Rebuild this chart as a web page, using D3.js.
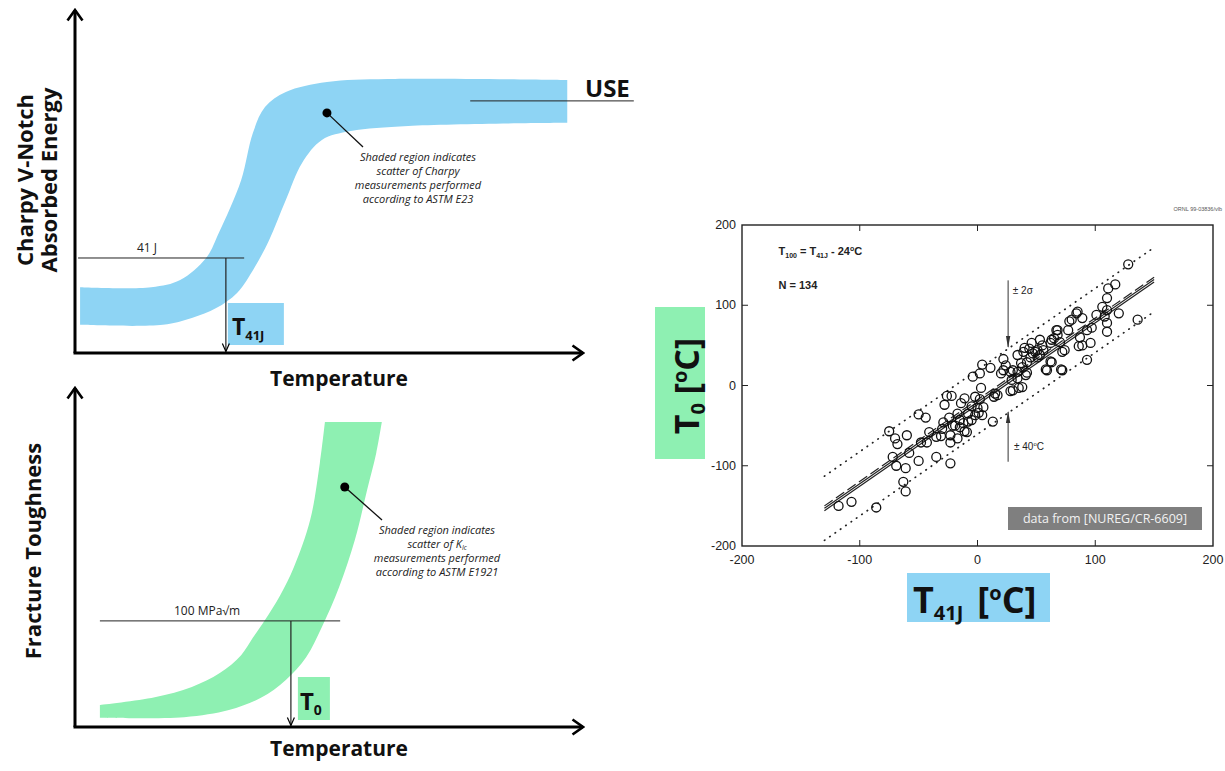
<!DOCTYPE html>
<html>
<head>
<meta charset="utf-8">
<script src="https://cdn.jsdelivr.net/npm/d3@7"></script>
<style>
  body { margin: 0; background: #fff; }
  svg { display: block; }
</style>
</head>
<body>
<script>
// ---------- data ----------
// Charpy schematic: edges of the scatter band [temperature, energy] (arbitrary units 0-100)
const charpyUpper = [[1.0,19.2],[15.0,19.2],[20.7,21.3],[25.8,27.7],[28.3,35.0],[32.7,50.4],[35.0,64.1],[37.4,71.7],[41.5,76.1],[49.6,79.0],[61.6,79.9],[96.9,79.6]];
const charpyLower = [[1.0,8.2],[17.3,8.2],[23.0,10.2],[27.8,13.1],[31.9,17.5],[35.4,25.1],[38.2,32.9],[41.5,44.6],[44.7,55.4],[48.6,62.1],[54.3,64.7],[65.6,66.2],[96.9,67.1]];
// Kic schematic: edges of the scatter band [temperature, toughness]
const kicUpper = [[4.9,6.5],[15.7,8.8],[23.0,11.8],[28.5,15.9],[32.7,21.2],[35.0,26.3],[37.4,31.6],[40.4,38.9],[43.1,47.2],[46.3,61.1],[48.2,77.9],[49.2,90.0]];
const kicLower = [[4.9,2.7],[21.5,2.9],[30.3,5.0],[36.6,8.6],[41.5,13.9],[45.5,20.6],[48.6,29.5],[52.0,41.3],[55.1,55.2],[57.5,69.9],[59.3,80.8],[60.4,90.0]];
// reference levels: [level, temperature, line start, line end]
const charpyRef = [27.7, 29.7, 0.6, 33.3];
const kicRef = [31.3, 42.5, 4.9, 52.2];
const useRef = [73.5, 77.8, 110];
const charpyDot = [49.6, 70.0];
const kicDot = [53.1, 70.8];

// T0 vs T41J scatter [T41J, T0] in degC
const scatterPoints = [
  [-118,-150],[-107,-145],[-86,-152],
  [-75,-57],[-70,-66],[-68,-73],[-72,-89],[-69,-100],[-60,-62],[-58,-84],[-61,-103],[-63,-120],[-61,-132],
  [-50,-36],[-44,-40],[-50,-94],[-48,-71],[-43,-71],[-41,-58],[-35,-89],[-35,-64],[-31,-63],
  [-30,-54],[-29,-46],[-28,-24],[-26,-13],[-22,-13],[-24,-40],[-23,-71],[-23,-97],[-23,-62],[-21,-50],
  [-17,-66],[-19,-50],[-17,-35],[-15,-43],[-14,-22],[-11,-16],[-15,-52],[-12,-47],[-11,-57],[-8,-45],[-8,-35],[-9,-58],[-5,-26],[-5,-43],[-2,-14],[-4,11],[-2,-37],[0,-28],[1,-34],
  [2,15],[4,26],[3,-3],[2,-17],[5,-27],[4,-37],[11,22],[14,-14],[15,-10],[13,-45],[17,-12],[20,15],
  [22,33],[24,25],[22,19],[28,17],[30,19],[34,17],[29,7],[34,9],[28,-7],[30,-6],[35,-3],[38,-2],[38,23],[39,42],[40,47],[37,28],[34,38],
  [42,16],[42,29],[46,53],[45,35],[47,40],[51,44],[53,57],[55,50],[56,44],[53,38],[51,35],[49,42],[44,46],[41,13],[58,20],[59,19],
  [62,53],[63,57],[62,30],[63,29],[68,69],[68,63],[70,54],[67,69],[72,19],[74,44],[71,20],[72,42],[77,69],[78,80],[65,59],
  [80,82],[85,92],[89,84],[87,60],[89,50],[93,69],[97,72],[96,53],[93,32],[86,49],[84,90],
  [101,88],[106,98],[110,94],[110,109],[108,86],[110,78],[110,67],[111,121],[117,126],[120,90],[128,151],[136,82]
];
const fitT41J = [-130, 150];
const fitT0 = [-153, 132];
const bandHalf = 40;
const scatterTicks = [-200, -100, 0, 100, 200];
const innerTicks = [-100, 0, 100];

// ---------- setup ----------
const W = 1225, H = 771;
const blue = "#8ed4f4", green = "#8ef0b2";
const sans = "'Open Sans', sans-serif";
const arial = "'Liberation Sans', Arial, sans-serif";

const svg = d3.select("body").append("svg").attr("width", W).attr("height", H);
svg.append("rect").attr("width", W).attr("height", H).attr("fill", "#fff");

const defs = svg.append("defs");
defs.append("marker").attr("id", "axisHead")
  .attr("viewBox", "0 0 14 18").attr("refX", 12).attr("refY", 9)
  .attr("markerWidth", 14).attr("markerHeight", 18)
  .attr("markerUnits", "userSpaceOnUse").attr("orient", "auto")
  .append("path").attr("d", "M1.5,1.5 L12,9 L1.5,16.5")
  .attr("fill", "none").attr("stroke", "#000").attr("stroke-width", 2.6);
defs.append("marker").attr("id", "thinHead")
  .attr("viewBox", "0 0 10 10").attr("refX", 9).attr("refY", 5)
  .attr("markerWidth", 10).attr("markerHeight", 10)
  .attr("markerUnits", "userSpaceOnUse").attr("orient", "auto")
  .append("path").attr("d", "M1,1.5 L9,5 L1,8.5")
  .attr("fill", "none").attr("stroke", "#000").attr("stroke-width", 1.2);
defs.append("marker").attr("id", "sciHead")
  .attr("viewBox", "0 0 12 6").attr("refX", 11).attr("refY", 3)
  .attr("markerWidth", 12).attr("markerHeight", 6)
  .attr("markerUnits", "userSpaceOnUse").attr("orient", "auto")
  .append("path").attr("d", "M0,0.8 L12,3 L0,5.2 Z").attr("fill", "#333");

function bandPath(upper, lower, xs, ys) {
  const ln = d3.line().x(d => xs(d[0])).y(d => ys(d[1])).curve(d3.curveCatmullRom.alpha(0.5));
  return ln(upper) + ln(lower.slice().reverse()).replace(/^M/, "L") + "Z";
}

function axesArrows(xs, ys) {
  svg.append("line").attr("x1", xs(0)).attr("y1", ys(0)).attr("x2", xs(0)).attr("y2", ys(100))
    .attr("stroke", "#000").attr("stroke-width", 3).attr("marker-end", "url(#axisHead)");
  svg.append("line").attr("x1", xs(0) - 1.5).attr("y1", ys(0)).attr("x2", xs(100)).attr("y2", ys(0))
    .attr("stroke", "#000").attr("stroke-width", 3).attr("marker-end", "url(#axisHead)");
}

function rotLabel(text, x, y, size) {
  svg.append("text").attr("transform", `translate(${x},${y}) rotate(-90)`)
    .attr("text-anchor", "middle").attr("font-family", sans).attr("font-weight", 700)
    .attr("font-size", size).attr("fill", "#111").text(text);
}

// italic annotation, one text element per line
function note(lines, cx, y0, sub) {
  lines.forEach((s, i) => {
    const t = svg.append("text").attr("x", cx).attr("y", y0 + i * 14)
      .attr("font-family", sans).attr("font-style", "italic")
      .attr("font-size", 11).attr("fill", "#222").attr("text-anchor", "middle");
    t.append("tspan").text(s);
    if (sub && i === 1) t.append("tspan").attr("font-size", 6.5).attr("dy", 1.5).text(sub);
  });
}

// ---------- top panel: Charpy ----------
const xTop = d3.scaleLinear().domain([0, 100]).range([75, 583]);
const yTop = d3.scaleLinear().domain([0, 100]).range([353, 10]);

svg.append("path").attr("d", bandPath(charpyUpper, charpyLower, xTop, yTop)).attr("fill", blue);

// T41J box
svg.append("rect").attr("x", xTop(charpyRef[1]) + 2).attr("y", 303).attr("width", 56).attr("height", 42).attr("fill", blue);
const t41 = svg.append("text").attr("x", xTop(charpyRef[1]) + 6).attr("y", 335)
  .attr("font-family", sans).attr("font-weight", 700).attr("font-size", 23).attr("fill", "#111");
t41.append("tspan").text("T");
t41.append("tspan").attr("font-size", 13).attr("dy", 5).text("41J");

// 41 J reference
svg.append("line").attr("x1", xTop(charpyRef[2])).attr("x2", xTop(charpyRef[3]))
  .attr("y1", yTop(charpyRef[0])).attr("y2", yTop(charpyRef[0])).attr("stroke", "#222").attr("stroke-width", 1);
svg.append("line").attr("x1", xTop(charpyRef[1])).attr("x2", xTop(charpyRef[1]))
  .attr("y1", yTop(charpyRef[0])).attr("y2", yTop(0) - 1.5).attr("stroke", "#222").attr("stroke-width", 1.2)
  .attr("marker-end", "url(#thinHead)");
svg.append("text").attr("x", 147).attr("y", yTop(charpyRef[0]) - 6).attr("text-anchor", "middle")
  .attr("font-family", sans).attr("font-size", 12).attr("fill", "#222").text("41 J");

// USE
svg.append("line").attr("x1", xTop(useRef[1])).attr("x2", xTop(useRef[2]))
  .attr("y1", yTop(useRef[0])).attr("y2", yTop(useRef[0])).attr("stroke", "#222").attr("stroke-width", 1);
svg.append("text").attr("x", 585).attr("y", 97).attr("font-family", sans).attr("font-weight", 700)
  .attr("font-size", 24).attr("fill", "#111").text("USE");

// annotation
svg.append("line").attr("x1", xTop(charpyDot[0])).attr("y1", yTop(charpyDot[1])).attr("x2", 363).attr("y2", 147)
  .attr("stroke", "#111").attr("stroke-width", 1.3);
svg.append("circle").attr("cx", xTop(charpyDot[0])).attr("cy", yTop(charpyDot[1])).attr("r", 4.5).attr("fill", "#000");
note(["Shaded region indicates", "scatter of Charpy", "measurements performed", "according to ASTM E23"], 418, 161);

axesArrows(xTop, yTop);
rotLabel("Charpy V-Notch", 33, 180, 22);
rotLabel("Absorbed Energy", 57, 180, 22);
svg.append("text").attr("x", 339).attr("y", 386).attr("text-anchor", "middle").attr("font-family", sans)
  .attr("font-weight", 700).attr("font-size", 21).attr("fill", "#111").text("Temperature");

// ---------- bottom panel: fracture toughness ----------
const xBot = d3.scaleLinear().domain([0, 100]).range([75, 583]);
const yBot = d3.scaleLinear().domain([0, 100]).range([727, 388]);

svg.append("path").attr("d", bandPath(kicUpper, kicLower, xBot, yBot)).attr("fill", green);

svg.append("rect").attr("x", xBot(kicRef[1]) + 7).attr("y", 677).attr("width", 32).attr("height", 43).attr("fill", green);
const t0 = svg.append("text").attr("x", xBot(kicRef[1]) + 9).attr("y", 710)
  .attr("font-family", sans).attr("font-weight", 700).attr("font-size", 24).attr("fill", "#111");
t0.append("tspan").text("T");
t0.append("tspan").attr("font-size", 14).attr("dy", 5).text("0");

svg.append("line").attr("x1", xBot(kicRef[2])).attr("x2", xBot(kicRef[3]))
  .attr("y1", yBot(kicRef[0])).attr("y2", yBot(kicRef[0])).attr("stroke", "#222").attr("stroke-width", 1);
svg.append("line").attr("x1", xBot(kicRef[1])).attr("x2", xBot(kicRef[1]))
  .attr("y1", yBot(kicRef[0])).attr("y2", yBot(0) - 1.5).attr("stroke", "#222").attr("stroke-width", 1.2)
  .attr("marker-end", "url(#thinHead)");
svg.append("text").attr("x", 207).attr("y", yBot(kicRef[0]) - 6).attr("text-anchor", "middle")
  .attr("font-family", sans).attr("font-size", 12).attr("fill", "#222").text("100 MPa\u221Am");

svg.append("line").attr("x1", xBot(kicDot[0])).attr("y1", yBot(kicDot[1])).attr("x2", 382).attr("y2", 520)
  .attr("stroke", "#111").attr("stroke-width", 1.3);
svg.append("circle").attr("cx", xBot(kicDot[0])).attr("cy", yBot(kicDot[1])).attr("r", 4.5).attr("fill", "#000");
note(["Shaded region indicates", "scatter of K", "measurements performed", "according to ASTM E1921"], 437, 534, "Ic");

axesArrows(xBot, yBot);
rotLabel("Fracture Toughness", 41, 551, 22);
svg.append("text").attr("x", 339).attr("y", 756).attr("text-anchor", "middle").attr("font-family", sans)
  .attr("font-weight", 700).attr("font-size", 21).attr("fill", "#111").text("Temperature");

// ---------- right panel: T0 vs T41J ----------
const xs = d3.scaleLinear().domain([-200, 200]).range([742, 1213]);
const ys = d3.scaleLinear().domain([-200, 200]).range([546, 225]);
const sc = svg.append("g");

// dotted +-40 bounds
[bandHalf, -bandHalf].forEach(off => {
  sc.append("line").attr("x1", xs(fitT41J[0])).attr("y1", ys(fitT0[0] + off))
    .attr("x2", xs(fitT41J[1])).attr("y2", ys(fitT0[1] + off))
    .attr("stroke", "#222").attr("stroke-width", 1.7).attr("stroke-linecap", "round")
    .attr("stroke-dasharray", "0.5,6");
});
// fit lines
[[0, null], [-3, null], [3, "10,4"]].forEach(([off, dash]) => {
  sc.append("line").attr("x1", xs(fitT41J[0])).attr("y1", ys(fitT0[0] + off))
    .attr("x2", xs(fitT41J[1])).attr("y2", ys(fitT0[1] + off))
    .attr("stroke", "#222").attr("stroke-width", 1.2).attr("stroke-dasharray", dash);
});

sc.selectAll("circle.pt").data(scatterPoints).join("circle").attr("class", "pt")
  .attr("cx", d => xs(d[0])).attr("cy", d => ys(d[1])).attr("r", 4.5)
  .attr("fill", "none").attr("stroke", "#111").attr("stroke-width", 1.3);

// frame and ticks
sc.append("rect").attr("x", xs(-200)).attr("y", ys(200)).attr("width", xs(200) - xs(-200))
  .attr("height", ys(-200) - ys(200)).attr("fill", "none").attr("stroke", "#222").attr("stroke-width", 1.4);
innerTicks.forEach(v => {
  sc.append("line").attr("x1", xs(v)).attr("x2", xs(v)).attr("y1", ys(-200)).attr("y2", ys(-200) - 6).attr("stroke", "#222");
  sc.append("line").attr("x1", xs(v)).attr("x2", xs(v)).attr("y1", ys(200)).attr("y2", ys(200) + 6).attr("stroke", "#222");
  sc.append("line").attr("y1", ys(v)).attr("y2", ys(v)).attr("x1", xs(-200)).attr("x2", xs(-200) + 6).attr("stroke", "#222");
  sc.append("line").attr("y1", ys(v)).attr("y2", ys(v)).attr("x1", xs(200)).attr("x2", xs(200) - 6).attr("stroke", "#222");
});
scatterTicks.forEach(v => {
  sc.append("text").attr("x", xs(v)).attr("y", ys(-200) + 18).attr("text-anchor", "middle")
    .attr("font-family", arial).attr("font-size", 12.5).attr("fill", "#222").text(v);
  sc.append("text").attr("x", xs(-200) - 6).attr("y", ys(v) + 4).attr("text-anchor", "end")
    .attr("font-family", arial).attr("font-size", 12.5).attr("fill", "#222").text(v);
});

// in-plot text
const eq = sc.append("text").attr("x", xs(-169)).attr("y", ys(162)).attr("font-family", arial)
  .attr("font-weight", 700).attr("font-size", 11).attr("fill", "#222");
eq.append("tspan").text("T");
eq.append("tspan").attr("font-size", 7).attr("dy", 3).text("100");
eq.append("tspan").attr("dy", -3).text(" = T");
eq.append("tspan").attr("font-size", 7).attr("dy", 3).text("41J");
eq.append("tspan").attr("dy", -3).text(" - 24");
eq.append("tspan").attr("font-size", 7).attr("dy", -4).text("o");
eq.append("tspan").attr("dy", 4).text("C");
sc.append("text").attr("x", xs(-169)).attr("y", ys(120)).attr("font-family", arial)
  .attr("font-weight", 700).attr("font-size", 11).attr("fill", "#222").text("N = 134");

// sigma arrows
sc.append("line").attr("x1", xs(26)).attr("x2", xs(26)).attr("y1", ys(131)).attr("y2", ys(48))
  .attr("stroke", "#333").attr("stroke-width", 1).attr("marker-end", "url(#sciHead)");
sc.append("text").attr("x", xs(30)).attr("y", ys(114)).attr("font-family", arial).attr("font-size", 10)
  .attr("fill", "#222").text("\u00B1 2\u03C3");
sc.append("line").attr("x1", xs(26)).attr("x2", xs(26)).attr("y1", ys(-95)).attr("y2", ys(-33))
  .attr("stroke", "#333").attr("stroke-width", 1).attr("marker-end", "url(#sciHead)");
const s40 = sc.append("text").attr("x", xs(31)).attr("y", ys(-80)).attr("font-family", arial).attr("font-size", 10).attr("fill", "#222");
s40.append("tspan").text("\u00B1 40");
s40.append("tspan").attr("font-size", 6).attr("dy", -4).text("o");
s40.append("tspan").attr("dy", 4).text("C");

sc.append("text").attr("x", 1222).attr("y", 211).attr("text-anchor", "end").attr("font-family", arial)
  .attr("font-size", 5.5).attr("fill", "#555").text("ORNL 99-03836/vlb");

// source box
sc.append("rect").attr("x", 1008).attr("y", 507).attr("width", 194).attr("height", 23).attr("fill", "#7f7f7f");
sc.append("text").attr("x", 1105).attr("y", 523).attr("text-anchor", "middle").attr("font-family", sans)
  .attr("font-size", 12.5).attr("fill", "#f2f2f2").text("data from [NUREG/CR-6609]");

// axis titles
svg.append("rect").attr("x", 655).attr("y", 307).attr("width", 50).attr("height", 152).attr("fill", green);
const yl = svg.append("text").attr("transform", "translate(699,386) rotate(-90)").attr("text-anchor", "middle")
  .attr("font-family", sans).attr("font-weight", 700).attr("font-size", 34).attr("fill", "#111");
yl.append("tspan").text("T");
yl.append("tspan").attr("font-size", 20).attr("dy", 6).text("0");
yl.append("tspan").attr("dy", -6).text(" [");
yl.append("tspan").attr("font-size", 20).attr("dy", -12).text("o");
yl.append("tspan").attr("dy", 12).text("C]");

svg.append("rect").attr("x", 907).attr("y", 573).attr("width", 143).attr("height", 49).attr("fill", blue);
const xl = svg.append("text").attr("x", 913).attr("y", 613)
  .attr("font-family", sans).attr("font-weight", 700).attr("font-size", 36).attr("fill", "#111");
xl.append("tspan").text("T");
xl.append("tspan").attr("font-size", 20).attr("dy", 7).text("41J");
xl.append("tspan").attr("dy", -7).attr("dx", 14).text("[");
xl.append("tspan").attr("font-size", 20).attr("dy", -13).text("o");
xl.append("tspan").attr("dy", 13).text("C]");
</script>
</body>
</html>
